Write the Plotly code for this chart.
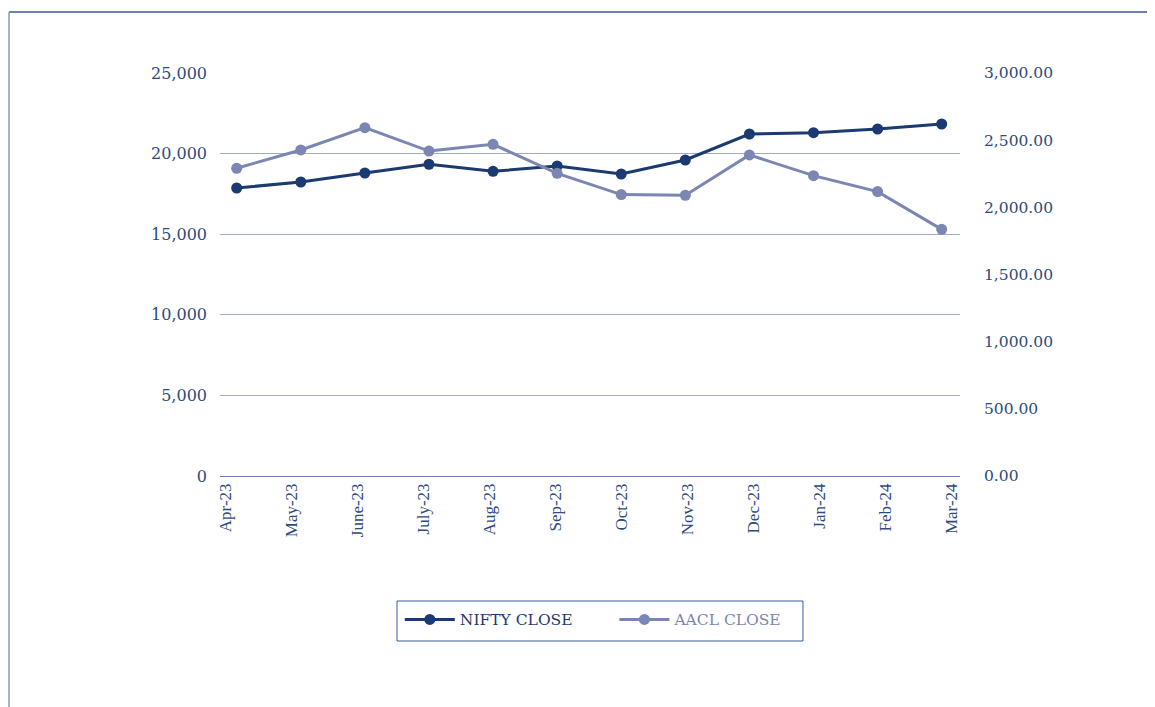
import plotly.graph_objects as go

months = ["Apr-23", "May-23", "June-23", "July-23", "Aug-23", "Sep-23",
          "Oct-23", "Nov-23", "Dec-23", "Jan-24", "Feb-24", "Mar-24"]
nifty_close = [17866, 18238, 18797, 19340, 18900, 19231,
               18734, 19603, 21216, 21300, 21526, 21836]
aacl_close = [2291, 2427, 2593, 2419, 2469, 2253,
              2095, 2090, 2390, 2236, 2117, 1836]
left_ticks = [0, 5000, 10000, 15000, 20000, 25000]
right_ticks = [0, 500, 1000, 1500, 2000, 2500, 3000]

NAVY = "#1B3A72"
LIGHT = "#7C86B2"
TICK = "#2E4A7E"
GRID = "#A4ABC8"

xs = list(range(len(months)))

fig = go.Figure()
fig.add_trace(go.Scatter(
    x=xs, y=nifty_close, name="NIFTY CLOSE", mode="lines+markers",
    line=dict(color=NAVY, width=3), marker=dict(size=11, color=NAVY),
    legend="legend", showlegend=True))
fig.add_trace(go.Scatter(
    x=xs, y=aacl_close, name="AACL CLOSE", mode="lines+markers",
    line=dict(color=LIGHT, width=3), marker=dict(size=11, color=LIGHT),
    yaxis="y2", legend="legend2", showlegend=True))
# empty carrier trace so the category-label axis gets drawn
fig.add_trace(go.Scatter(
    x=xs, y=[None] * len(xs), xaxis="x2", mode="markers",
    showlegend=False, hoverinfo="skip"))

fig.update_layout(
    width=1147, height=699, showlegend=True,
    margin=dict(l=212, r=195, t=65, b=231),
    paper_bgcolor="white", plot_bgcolor="white",
    xaxis=dict(
        range=[-0.2606, 11.2855], showticklabels=False, showgrid=False,
        zeroline=False, showline=True, linecolor="#6E7DB2", linewidth=1,
        ticks=""),
    xaxis2=dict(
        overlaying="x", anchor="y", side="bottom",
        tickmode="array", tickvals=xs, ticktext=months,
        range=[-0.083, 11.129], tickangle=-90, showgrid=False,
        zeroline=False, showline=False,
        tickfont=dict(family="Liberation Serif", size=17, color=TICK),
        ticks="", ticklabelstandoff=3),
    yaxis=dict(
        range=[0, 25000], tickmode="array", tickvals=left_ticks,
        tickformat=",d", showgrid=True, gridcolor=GRID, gridwidth=1,
        zeroline=False, showline=False, ticks="",
        tickfont=dict(family="DejaVu Serif", size=16, color=TICK),
        ticklabelstandoff=12),
    yaxis2=dict(
        range=[0, 3000], overlaying="y", side="right", tickmode="array",
        tickvals=right_ticks, tickformat=",.2f", showgrid=False,
        zeroline=False, showline=False, ticks="",
        tickfont=dict(family="DejaVu Serif", size=15.5, color=TICK),
        ticklabelstandoff=23),
    legend=dict(x=0.243, y=-0.357, xanchor="left", yanchor="middle",
                orientation="h", bgcolor="rgba(0,0,0,0)", itemwidth=50,
                font=dict(family="DejaVu Serif", size=15.5, color=NAVY)),
    legend2=dict(x=0.533, y=-0.357, xanchor="left", yanchor="middle",
                 orientation="h", bgcolor="rgba(0,0,0,0)", itemwidth=50,
                 font=dict(family="DejaVu Serif", size=15.5, color=LIGHT)),
    shapes=[
        dict(type="rect", xref="paper", yref="paper",
             x0=0.2392, x1=0.7878, y0=-0.4094, y1=-0.3102,
             line=dict(color="#3A5A9A", width=1)),
        dict(type="line", xref="paper", yref="paper",
             x0=-0.2851, x1=1.27, y0=1.1514, y1=1.1514,
             line=dict(color="#3A5A9A", width=1.5)),
        dict(type="line", xref="paper", yref="paper",
             x0=-0.2851, x1=-0.2851, y0=1.1514, y1=-0.59,
             line=dict(color="#8A96C0", width=1.5)),
    ],
)

fig.write_html("out.html")
